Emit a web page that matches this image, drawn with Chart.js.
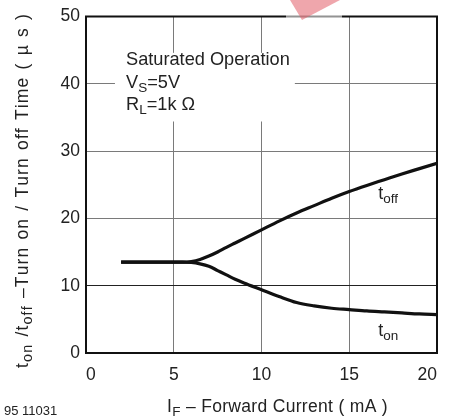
<!DOCTYPE html>
<html>
<head>
<meta charset="utf-8">
<script src="https://cdn.jsdelivr.net/npm/chart.js@4.4.1/dist/chart.umd.min.js"></script>
<style>
html,body{margin:0;padding:0;background:#fff;}
#wrap{width:449px;height:418px;position:relative;}
</style>
</head>
<body>
<div id="wrap"><canvas id="c" width="449" height="418"></canvas></div>
<script>
// ---- data ----
const currentIF = [2, 3, 4, 5, 5.5, 6, 6.5, 7, 7.5, 8, 8.5, 9, 10, 11, 12, 13, 14, 15, 16, 17, 18, 19, 20];
const tOff =      [13.5, 13.5, 13.5, 13.5, 13.5, 13.6, 13.9, 14.4, 15.0, 15.7, 16.35, 17.0, 18.3, 19.6, 20.8, 21.9, 23.0, 24.0, 24.9, 25.75, 26.6, 27.4, 28.2];
const tOn =       [13.5, 13.5, 13.5, 13.5, 13.5, 13.45, 13.25, 12.9, 12.25, 11.6, 10.95, 10.4, 9.4, 8.4, 7.5, 7.0, 6.65, 6.45, 6.25, 6.1, 5.95, 5.8, 5.7];
const xTicks = [0, 5, 10, 15, 20];
const yTicks = [0, 10, 20, 30, 40, 50];

const FONT = '"Liberation Sans", Arial, Helvetica, sans-serif';
const TXT = '#222';

// draws text parts (main / subscript); optional extra letter spacing and extra space width
function drawParts(ctx, parts, x, y, size, subSize, subDrop, spacing, spaceExtra) {
  spacing = spacing || 0;
  spaceExtra = spaceExtra || 0;
  let cx = x;
  for (const [t, sub] of parts) {
    ctx.font = (sub ? subSize : size) + 'px ' + FONT;
    if (!spacing && !spaceExtra) {
      ctx.fillText(t, cx, y + (sub ? subDrop : 0));
      cx += ctx.measureText(t).width;
    } else {
      for (const ch of t) {
        ctx.fillText(ch, cx, y + (sub ? subDrop : 0));
        cx += ctx.measureText(ch).width + spacing + (ch === ' ' ? spaceExtra : 0);
      }
    }
  }
  return cx - x;
}
function measureParts(ctx, parts, size, subSize) {
  let w = 0, n = 0, s = 0;
  for (const [t, sub] of parts) {
    ctx.font = (sub ? subSize : size) + 'px ' + FONT;
    for (const ch of t) { w += ctx.measureText(ch).width; n++; if (ch === ' ') s++; }
  }
  return { w, n, s };
}

const decor = {
  id: 'decor',
  beforeDatasetsDraw(chart) {
    const ctx = chart.ctx;
    const xs = chart.scales.x, ys = chart.scales.y;
    ctx.save();
    ctx.fillStyle = '#fff';
    const bx = xs.getPixelForValue(1.65), by = ys.getPixelForValue(44.6);
    const bx2 = xs.getPixelForValue(11.9), by2 = ys.getPixelForValue(34.4);
    ctx.fillRect(bx, by, bx2 - bx, by2 - by);
    ctx.restore();
  },
  afterDraw(chart) {
    const ctx = chart.ctx;
    const a = chart.chartArea;
    const xs = chart.scales.x;
    ctx.save();
    ctx.strokeStyle = '#111';
    ctx.lineWidth = 2;
    ctx.strokeRect(a.left, a.top, a.right - a.left, a.bottom - a.top);

    ctx.fillStyle = TXT;
    ctx.textBaseline = 'alphabetic';
    ctx.textAlign = 'left';
    const ax = xs.getPixelForValue(2.28);
    drawParts(ctx, [['Saturated Operation', false]], ax, 65, 18.2, 13, 4);
    drawParts(ctx, [['V', false], ['S', true], ['=5V', false]], ax, 88, 18.2, 13.5, 4);
    drawParts(ctx, [['R', false], ['L', true], ['=1k \u03A9', false]], ax, 110, 18.2, 13.5, 4);

    drawParts(ctx, [['t', false], ['off', true]], xs.getPixelForValue(16.65), 199, 18, 13.5, 4);
    drawParts(ctx, [['t', false], ['on', true]], xs.getPixelForValue(16.65), 336, 18, 13.5, 4);

    // x title
    const xp = [['I', false], ['F', true], [' \u2013 Forward Current ( mA )', false]];
    const xm = measureParts(ctx, xp, 17.5, 13.5);
    const xsp = (221 - xm.w) / xm.n;
    drawParts(ctx, xp, 167, 412, 17.5, 13.5, 4, xsp);

    ctx.font = '13px ' + FONT;
    ctx.fillText('95 11031', 4, 415);

    // y title rotated
    ctx.save();
    ctx.translate(28, 368);
    ctx.rotate(-Math.PI / 2);
    const yp = [['t', false], ['on', true], [' /t', false], ['off', true], [' \u2013Turn on / Turn off Time ( \u00B5 s )', false]];
    const ls = 1.1;
    const ym = measureParts(ctx, yp, 17.5, 14.5);
    const sx = (355 - ym.w - ls * ym.n) / ym.s;
    drawParts(ctx, yp, 0, 0, 17.5, 14.5, 4, ls, sx);
    ctx.restore();

    // watermark fragment
    ctx.fillStyle = 'rgba(255,255,255,0.55)';
    ctx.fillRect(286, 13, 56, 5);
    ctx.fillStyle = 'rgba(226,92,104,0.55)';
    ctx.beginPath();
    ctx.moveTo(290, 0);
    ctx.lineTo(340, 0);
    ctx.lineTo(302, 20);
    ctx.closePath();
    ctx.fill();
    ctx.restore();
  }
};

new Chart(document.getElementById('c'), {
  type: 'line',
  data: {
    datasets: [
      { label: 't_off', data: currentIF.map((x, i) => ({ x, y: tOff[i] })), borderColor: '#111', borderWidth: 3.2, pointRadius: 0, cubicInterpolationMode: 'monotone', fill: false },
      { label: 't_on', data: currentIF.map((x, i) => ({ x, y: tOn[i] })), borderColor: '#111', borderWidth: 3.2, pointRadius: 0, cubicInterpolationMode: 'monotone', fill: false }
    ]
  },
  options: {
    responsive: false,
    animation: false,
    devicePixelRatio: 1,
    layout: { padding: { left: 0, right: 12, top: 15, bottom: 0 } },
    plugins: { legend: { display: false }, tooltip: { enabled: false } },
    scales: {
      x: {
        type: 'linear', min: 0, max: 20,
        afterBuildTicks: s => { s.ticks = xTicks.map(v => ({ value: v })); },
        afterFit: s => { s.height = 65; },
        grid: { color: '#7a7a7a', lineWidth: 1, drawTicks: false },
        border: { color: '#111', width: 2 },
        ticks: { color: TXT, font: { family: FONT, size: 17.5 }, padding: 12, align: 'inner', maxRotation: 0 }
      },
      y: {
        type: 'linear', min: 0, max: 50,
        afterBuildTicks: s => { s.ticks = yTicks.map(v => ({ value: v })); },
        afterFit: s => { s.width = 86; },
        grid: { color: c => (c.tick && c.tick.value === 10 ? '#222' : '#7a7a7a'), lineWidth: 1, drawTicks: false },
        border: { color: '#111', width: 2 },
        ticks: { color: TXT, font: { family: FONT, size: 17.5 }, padding: 6 }
      }
    }
  },
  plugins: [decor]
});
</script>
</body>
</html>
